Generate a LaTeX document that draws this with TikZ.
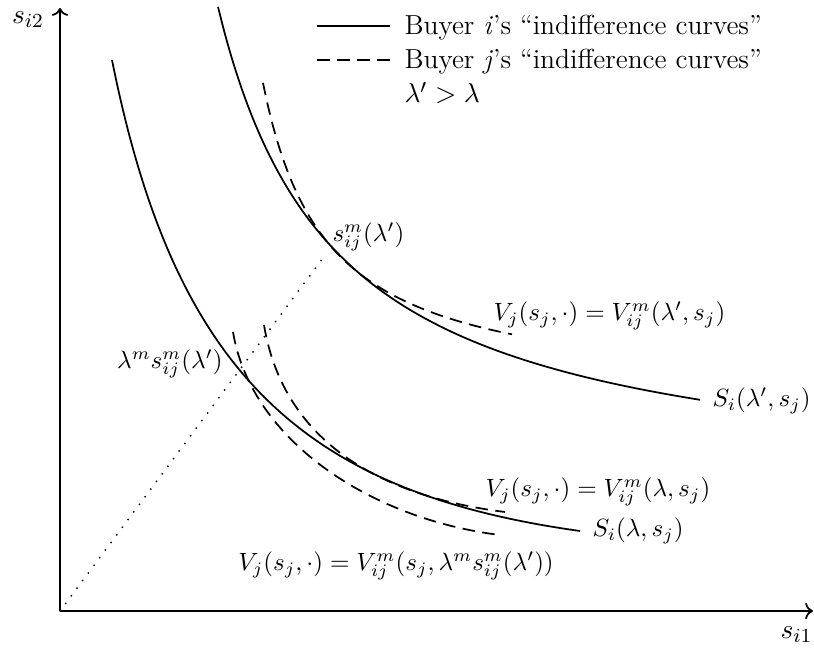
\documentclass[tikz,border=0pt]{standalone}
\usepackage{amsmath}
\usepackage{amssymb}
\usepackage{tikz}
\usetikzlibrary{arrows.meta}
\tikzset{
  icurve/.style={line width=0.7pt},
  jcurve/.style={line width=0.7pt,dash pattern=on 5pt off 3pt},
  tangent/.style={line width=0.8pt,line cap=round,dash pattern=on 0pt off 3.8pt},
  lbl/.style={font=\fontsize{10}{12}\selectfont,inner sep=0pt},
  legtext/.style={font=\fontsize{11}{13}\selectfont,inner sep=0pt,anchor=base west},
}

\begin{document}
\begin{tikzpicture}[x=0.4pt,y=-0.4pt]
    \useasboundingbox (0,0) rectangle (814,650);
    % axes
    \coordinate (O) at (60,611);
    \coordinate (ytop) at (60,8);
    \coordinate (xend) at (813,611);
    \draw[line width=0.7pt,->] (O) -- (ytop);
    \draw[line width=0.7pt,->] (O) -- (xend);
    \node[lbl,font=\fontsize{11}{13}\selectfont] (si2) at (28,20) {$s_{i2}$};
    \node[lbl,font=\fontsize{11}{13}\selectfont,anchor=east] (si1) at (813,635) {$s_{i1}$};
    % legend
    \coordinate (leg1a) at (317,26);
    \coordinate (leg1b) at (390,26);
    \coordinate (leg2a) at (317,60);
    \coordinate (leg2b) at (390,60);
    \draw[icurve] (leg1a) -- (leg1b);
    \draw[jcurve] (leg2a) -- (leg2b);
    \node[legtext] (legi) at (404,35) {Buyer \textit{i}'s ``indifference curves''};
    \node[legtext] (legj) at (404,69) {Buyer \textit{j}'s ``indifference curves''};
    \node[legtext] (legl) at (404,103) {$\lambda'>\lambda$};
    % buyer i
    \draw[icurve,domain=218:700,samples=80,smooth] plot (\x,{496-577.16/((\x-100)/100)});
    \draw[icurve] (112,60) .. controls (174,370) and (300,492) .. (580,531);
    % buyer j
    \draw[jcurve,domain=263:512,samples=60,smooth] plot (\x,{398-198.5/((\x-200)/100)});
    \draw[jcurve] (264,325) .. controls (284,445) and (385,497) .. (505,512);
    \draw[jcurve] (233,332) .. controls (251,440) and (370,519) .. (500,535);
    % ray through the origin
    \coordinate (tpt) at (326,254);
    \draw[tangent] (O) -- (tpt);
    % labels
    \node[lbl,anchor=west] (sm) at (332,237) {$s^m_{ij}(\lambda')$};
    \node[lbl,anchor=east] (lsm) at (223,364) {$\lambda^m s^m_{ij}(\lambda')$};
    \node[lbl,anchor=west] (vhi) at (493,316) {$V_j(s_j,\cdot)=V^m_{ij}(\lambda',s_j)$};
    \node[lbl,anchor=west] (shi) at (712,401) {$S_i(\lambda',s_j)$};
    \node[lbl,anchor=west] (vlo) at (485,492) {$V_j(s_j,\cdot)=V^m_{ij}(\lambda,s_j)$};
    \node[lbl,anchor=west] (slo) at (592,531) {$S_i(\lambda,s_j)$};
    \node[lbl] (vbot) at (396,566) {$V_j(s_j,\cdot)=V^m_{ij}(s_j,\lambda^m s^m_{ij}(\lambda'))$};
\end{tikzpicture}
\end{document}
